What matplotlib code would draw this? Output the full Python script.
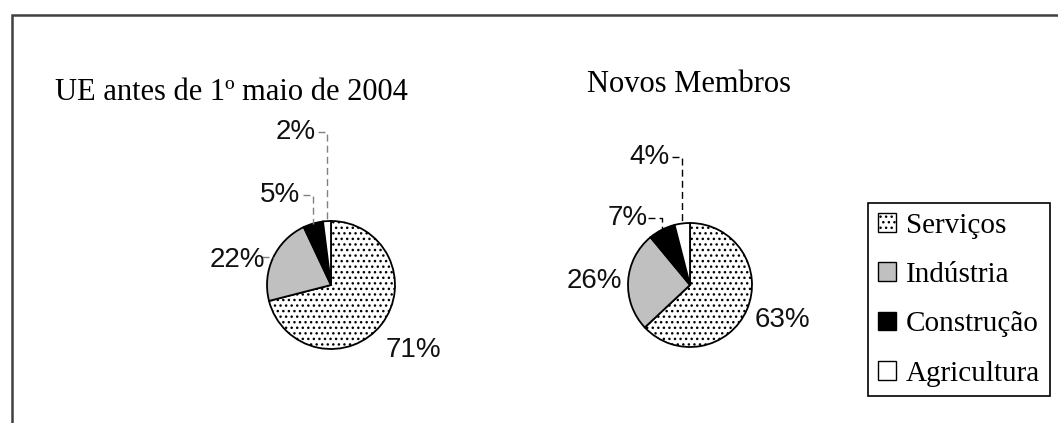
import matplotlib
matplotlib.use("Agg")
import numpy as np
import matplotlib.pyplot as plt
from matplotlib.patches import Patch

W, H = 1058, 423

sectors = ["Serviços", "Indústria", "Construção", "Agricultura"]
ue_antes = [71, 22, 5, 2]
novos_membros = [63, 26, 7, 4]
titles = ["UE antes de 1º maio de 2004", "Novos Membros"]

colors = ["white", "#c0c0c0", "black", "white"]
hatches = ["...", None, None, None]

SERIF = "Liberation Serif"
SANS = "Liberation Sans"

fig = plt.figure(figsize=(W / 100, H / 100), dpi=100)
ax = fig.add_axes([0, 0, 1, 1])


def img(x, y):
    # pixel coords measured from the top-left corner -> data coords
    return x, H - y


def draw_pie(values, center, radius, title, title_pos, label_pos, leader_start, leader_color):
    cx, cy = img(*center)
    wedges, _ = ax.pie(values, colors=colors, startangle=90, counterclock=False,
                       center=(cx, cy), radius=radius, frame=True,
                       wedgeprops=dict(edgecolor="black", linewidth=1.3))
    for w, h in zip(wedges, hatches):
        if h:
            w.set_hatch(h)

    tx, ty = img(*title_pos)
    ax.text(tx, ty, title, family=SERIF, fontsize=22, ha="left", va="center")

    for i, (w, v) in enumerate(zip(wedges, values)):
        lx, ly = img(*label_pos[i])
        ax.text(lx, ly, f"{v}%", family=SANS, fontsize=20, ha="center", va="center",
                color="#111111")
        if leader_start[i] is None:
            continue
        mid = np.deg2rad((w.theta1 + w.theta2) / 2)
        ex, ey = cx + radius * np.cos(mid), cy + radius * np.sin(mid)
        sx, sy = img(*leader_start[i])
        ax.plot([sx, ex, ex], [sy, sy, ey], color=leader_color, lw=1.0,
                linestyle=(0, (5, 3)))


draw_pie(ue_antes, (331, 285), 64, titles[0], (55, 92),
         [(413, 350), (237, 260), (280, 195), (296, 132)],
         [None, (262, 257), (303, 195), (318, 132)], "#808080")
draw_pie(novos_membros, (690, 285), 62, titles[1], (587, 84),
         [(782, 320), (594, 281), (628, 218), (650, 157)],
         [None, None, (648, 218), (672, 157)], "black")

# outer frame (left and top edges only visible)
ax.plot([12, 12, W], [0, H - 15, H - 15], color="#404040", lw=1.8,
        solid_joinstyle="miter")

ax.set_xlim(0, W)
ax.set_ylim(0, H)
ax.set_aspect("auto")
ax.axis("off")

handles = [Patch(facecolor=c, edgecolor="black", hatch=h, linewidth=1.0)
           for c, h in zip(colors, hatches)]
leg = fig.legend(handles, sectors, loc="upper left",
                 bbox_to_anchor=(868 / W, 1 - 203 / H), frameon=True,
                 fancybox=False, edgecolor="black", framealpha=1,
                 prop=dict(family=SERIF, size=21), handlelength=0.62,
                 handleheight=0.62, handletextpad=0.35, labelspacing=0.8,
                 borderpad=0.33, borderaxespad=0)
leg.get_frame().set_linewidth(1.2)

fig.savefig("out.png", dpi=100, facecolor="white")
